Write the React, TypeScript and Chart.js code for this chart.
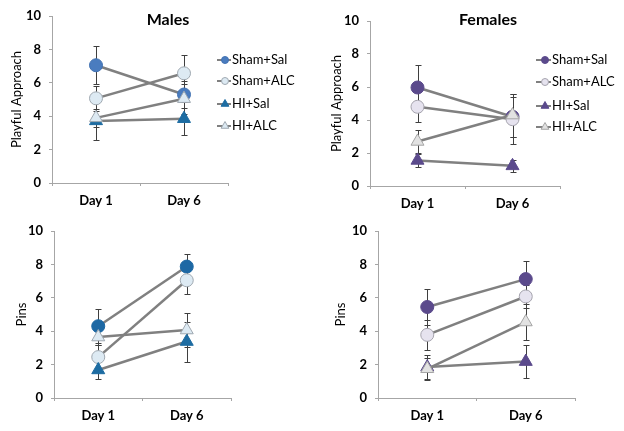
import React, { useEffect, useRef } from 'react';
import { Chart, registerables } from 'chart.js';

Chart.register(...registerables);

// ---------- data ----------
const days = ['Day 1', 'Day 6'];
const groups = ['Sham+Sal', 'Sham+ALC', 'HI+Sal', 'HI+ALC'];
const yTickValues = [0, 2, 4, 6, 8, 10];

// Males – Playful Approach
const malesPlayShamSal = [7.05, 5.3];
const malesPlayShamAlc = [5.07, 6.57];
const malesPlayHiSal = [3.72, 3.85];
const malesPlayHiAlc = [3.9, 5.05];
const malesPlayShamSalErr = [1.15, 0.8];
const malesPlayShamAlcErr = [0.76, 1.1];
const malesPlayHiSalErr = [1.15, 1.0];
const malesPlayHiAlcErr = [0.55, 0.9];

// Females – Playful Approach
const femalesPlayShamSal = [5.97, 4.2];
const femalesPlayShamAlc = [4.8, 4.05];
const femalesPlayHiSal = [1.55, 1.22];
const femalesPlayHiAlc = [2.7, 4.3];
const femalesPlayShamSalErr = [1.35, 1.2];
const femalesPlayShamAlcErr = [0.9, 1.5];
const femalesPlayHiSalErr = [0.4, 0.35];
const femalesPlayHiAlcErr = [0.7, 1.3];

// Males – Pins
const malesPinsShamSal = [4.3, 7.87];
const malesPinsShamAlc = [2.45, 7.05];
const malesPinsHiSal = [1.68, 3.38];
const malesPinsHiAlc = [3.65, 4.07];
const malesPinsShamSalErr = [1.0, 0.75];
const malesPinsShamAlcErr = [0.7, 0.8];
const malesPinsHiSalErr = [0.55, 1.2];
const malesPinsHiAlcErr = [0.45, 1.0];

// Females – Pins
const femalesPinsShamSal = [5.45, 7.12];
const femalesPinsShamAlc = [3.78, 6.08];
const femalesPinsHiSal = [1.85, 2.18];
const femalesPinsHiAlc = [1.75, 4.55];
const femalesPinsShamSalErr = [1.05, 1.1];
const femalesPinsShamAlcErr = [0.9, 0.7];
const femalesPinsHiSalErr = [0.7, 1.0];
const femalesPinsHiAlcErr = [0.65, 1.05];

// ---------- styles ----------
const FONT = 'Lato, "Open Sans", "DejaVu Sans", sans-serif';
const LINE = '#808080';
const AXIS = '#A6A6A6';
const ERR = '#3F3F3F';

type Mk = { style: 'circle' | 'triangle'; fill: string; stroke: string };

const malesPlayMarkers: Mk[] = [
  { style: 'circle', fill: '#4A7CBF', stroke: '#4272B2' },
  { style: 'circle', fill: '#DDEAF3', stroke: '#9FA8B0' },
  { style: 'triangle', fill: '#1D6CA2', stroke: '#1D6CA2' },
  { style: 'triangle', fill: '#DDEAF3', stroke: '#9FA8B0' },
];
const malesPinsMarkers: Mk[] = [
  { style: 'circle', fill: '#1D68A4', stroke: '#1D68A4' },
  { style: 'circle', fill: '#DDEAF3', stroke: '#9FA8B0' },
  { style: 'triangle', fill: '#1D6CA2', stroke: '#1D6CA2' },
  { style: 'triangle', fill: '#DDEAF3', stroke: '#9FA8B0' },
];
const femalesMarkers: Mk[] = [
  { style: 'circle', fill: '#5B4A8C', stroke: '#5B4A8C' },
  { style: 'circle', fill: '#E6E3EF', stroke: '#A5A3AD' },
  { style: 'triangle', fill: '#5B4A8C', stroke: '#5B4A8C' },
  { style: 'triangle', fill: '#E2E2E2', stroke: '#A5A5A5' },
];

type Panel = {
  left: number; top: number; w: number; h: number;
  area: { l: number; r: number; t: number; b: number };
  yTitle: string; yTitleX: number;
  title?: string; titleX?: number; titleY?: number;
  legend?: { x0: number; x1: number; mx: number; tx: number; ys: number[] };
  values: number[][]; errs: number[][]; markers: Mk[];
};

const panels: Panel[] = [
  {
    left: 0, top: 0, w: 312, h: 215,
    area: { l: 52, r: 228, t: 16, b: 183 },
    yTitle: 'Playful Approach', yTitleX: 16.5,
    title: 'Males', titleX: 168, titleY: 20,
    legend: { x0: 217, x1: 231, mx: 225, tx: 232, ys: [60, 81, 104, 126] },
    values: [malesPlayShamSal, malesPlayShamAlc, malesPlayHiSal, malesPlayHiAlc],
    errs: [malesPlayShamSalErr, malesPlayShamAlcErr, malesPlayHiSalErr, malesPlayHiAlcErr],
    markers: malesPlayMarkers,
  },
  {
    left: 312, top: 0, w: 312, h: 215,
    area: { l: 58, r: 248, t: 21, b: 186 },
    yTitle: 'Playful Approach', yTitleX: 25,
    title: 'Females', titleX: 176, titleY: 20,
    legend: { x0: 224, x1: 239, mx: 233, tx: 240, ys: [60, 82, 106, 127] },
    values: [femalesPlayShamSal, femalesPlayShamAlc, femalesPlayHiSal, femalesPlayHiAlc],
    errs: [femalesPlayShamSalErr, femalesPlayShamAlcErr, femalesPlayHiSalErr, femalesPlayHiAlcErr],
    markers: femalesMarkers,
  },
  {
    left: 0, top: 215, w: 312, h: 216,
    area: { l: 54, r: 231, t: 16, b: 183 },
    yTitle: 'Pins', yTitleX: 22,
    values: [malesPinsShamSal, malesPinsShamAlc, malesPinsHiSal, malesPinsHiAlc],
    errs: [malesPinsShamSalErr, malesPinsShamAlcErr, malesPinsHiSalErr, malesPinsHiAlcErr],
    markers: malesPinsMarkers,
  },
  {
    left: 312, top: 215, w: 312, h: 216,
    area: { l: 66, r: 263, t: 16, b: 183 },
    yTitle: 'Pins', yTitleX: 29,
    values: [femalesPinsShamSal, femalesPinsShamAlc, femalesPinsHiSal, femalesPinsHiAlc],
    errs: [femalesPinsShamSalErr, femalesPinsShamAlcErr, femalesPinsHiSalErr, femalesPinsHiAlcErr],
    markers: femalesMarkers,
  },
];

function drawMarker(ctx: CanvasRenderingContext2D, style: string, x: number, y: number, r: number, fill: string, stroke: string) {
  ctx.save();
  ctx.beginPath();
  if (style === 'circle') {
    ctx.arc(x, y, r, 0, Math.PI * 2);
  } else {
    const a = Math.PI / 2;
    for (let k = 0; k < 3; k++) {
      const ang = -a + (k * 2 * Math.PI) / 3;
      const px = x + Math.cos(ang) * r;
      const py = y + Math.sin(ang) * r;
      if (k === 0) ctx.moveTo(px, py); else ctx.lineTo(px, py);
    }
    ctx.closePath();
  }
  ctx.fillStyle = fill;
  ctx.fill();
  ctx.strokeStyle = stroke;
  ctx.lineWidth = 1;
  ctx.stroke();
  ctx.restore();
}

function buildChart(canvas: HTMLCanvasElement, p: Panel) {
  const titleLine = 13 * 1.2;
  const errPlugin = {
    id: 'errbars',
    beforeDatasetsDraw(chart: any) {
      const ctx = chart.ctx as CanvasRenderingContext2D;
      const ys = chart.scales.y;
      ctx.save();
      ctx.strokeStyle = ERR;
      ctx.lineWidth = 1;
      p.values.forEach((vals, di) => {
        const meta = chart.getDatasetMeta(di);
        vals.forEach((v, i) => {
          const e = p.errs[di][i];
          const x = Math.round(meta.data[i].x) + 0.5;
          const yt = Math.round(ys.getPixelForValue(v + e)) + 0.5;
          const yb = Math.round(ys.getPixelForValue(v - e)) + 0.5;
          ctx.beginPath();
          ctx.moveTo(x, yt); ctx.lineTo(x, yb);
          ctx.moveTo(x - 3, yt); ctx.lineTo(x + 3, yt);
          ctx.moveTo(x - 3, yb); ctx.lineTo(x + 3, yb);
          ctx.stroke();
        });
      });
      ctx.restore();
    },
  };
  const decorPlugin = {
    id: 'decor',
    afterDraw(chart: any) {
      const ctx = chart.ctx as CanvasRenderingContext2D;
      ctx.save();
      if (p.title) {
        ctx.font = `bold 16px ${FONT}`;
        ctx.fillStyle = '#000';
        ctx.textAlign = 'center';
        ctx.textBaseline = 'middle';
        ctx.fillText(p.title, p.titleX!, p.titleY!);
      }
      if (p.legend) {
        const L = p.legend;
        groups.forEach((g, i) => {
          const y = L.ys[i];
          ctx.beginPath();
          ctx.strokeStyle = LINE;
          ctx.lineWidth = 2;
          ctx.moveTo(L.x0, y); ctx.lineTo(L.x1, y);
          ctx.stroke();
          const m = p.markers[i];
          drawMarker(ctx, m.style, L.mx, y, m.style === 'circle' ? 3.5 : 4.5, m.fill, m.stroke);
          ctx.font = `13px ${FONT}`;
          ctx.fillStyle = '#000';
          ctx.textAlign = 'left';
          ctx.textBaseline = 'middle';
          ctx.fillText(g, L.tx, y);
        });
      }
      ctx.restore();
    },
  };

  const datasets = p.values.map((vals, i) => {
    const m = p.markers[i];
    return {
      label: groups[i],
      data: vals,
      borderColor: LINE,
      borderWidth: 2.5,
      pointStyle: m.style,
      pointRadius: m.style === 'circle' ? 6.5 : 7.5,
      pointHoverRadius: m.style === 'circle' ? 6.5 : 7.5,
      pointBackgroundColor: m.fill,
      pointBorderColor: m.stroke,
      pointBorderWidth: 1,
      fill: false,
      tension: 0,
      order: 4 - i,
    };
  });

  return new Chart(canvas, {
    type: 'line',
    data: { labels: days, datasets },
    plugins: [errPlugin, decorPlugin],
    options: {
      responsive: false,
      animation: false,
      devicePixelRatio: 1,
      events: [],
      layout: {
        padding: { left: 0, top: p.area.t, right: p.w - p.area.r, bottom: 0 },
      },
      plugins: {
        legend: { display: false },
        title: { display: false },
        tooltip: { enabled: false },
      },
      scales: {
        x: {
          type: 'category',
          offset: true,
          afterFit: (s: any) => { s.height = p.h - p.area.b; },
          grid: {
            offset: true,
            drawOnChartArea: false,
            drawTicks: true,
            tickLength: 3,
            color: AXIS,
          },
          border: { display: true, color: AXIS, width: 1 },
          ticks: {
            padding: 7,
            color: '#000',
            font: { family: FONT, size: 13, weight: 'bold' },
            maxRotation: 0,
          },
        },
        y: {
          min: 0,
          max: 10,
          afterFit: (s: any) => { s.width = p.area.l; },
          afterBuildTicks: (s: any) => { s.ticks = yTickValues.map((v) => ({ value: v })); },
          grid: {
            drawOnChartArea: false,
            drawTicks: true,
            tickLength: 3,
            color: AXIS,
          },
          border: { display: true, color: AXIS, width: 1 },
          ticks: {
            padding: 8,
            color: '#000',
            font: { family: FONT, size: 13, weight: 'bold' },
          },
          title: {
            display: true,
            text: p.yTitle,
            color: '#000',
            font: { family: FONT, size: 13, weight: 'normal' },
            padding: { top: p.yTitleX - titleLine / 2, bottom: 0 },
          },
        },
      },
    } as any,
  });
}

function PanelChart({ p }: { p: Panel }) {
  const ref = useRef<HTMLCanvasElement | null>(null);
  useEffect(() => {
    if (!ref.current) return;
    const chart = buildChart(ref.current, p);
    return () => chart.destroy();
  }, [p]);
  return (
    <canvas
      ref={ref}
      width={p.w}
      height={p.h}
      style={{ position: 'absolute', left: p.left, top: p.top, width: p.w, height: p.h }}
    />
  );
}

export default function App() {
  return (
    <div style={{ position: 'absolute', left: 0, top: 0, width: 624, height: 431, background: '#fff' }}>
      {panels.map((p, i) => (
        <PanelChart key={i} p={p} />
      ))}
    </div>
  );
}
